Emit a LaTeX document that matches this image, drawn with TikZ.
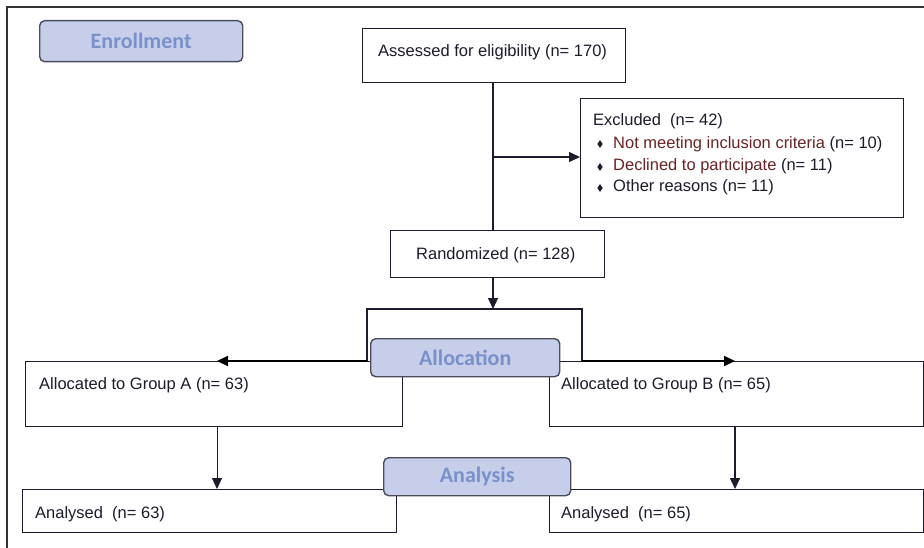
\documentclass[tikz,border=0pt]{standalone}
\usepackage{fontspec}
\setmainfont{Liberation Sans}
\newfontfamily\headfont{Carlito}
\usetikzlibrary{arrows.meta,shapes.geometric}
\definecolor{hdrfill}{HTML}{C6CEE9}
\definecolor{hdrtext}{HTML}{7990CB}
\definecolor{hdredge}{HTML}{4A4C5C}
\definecolor{maroon}{HTML}{6A2326}
\definecolor{ink}{HTML}{1C1C2A}
\tikzset{
  box/.style={draw=ink,line width=1.4pt,fill=white,rectangle,inner sep=0pt,anchor=north west},
  hdr/.style={draw=hdredge,line width=1.4pt,fill=hdrfill,rounded corners=5pt,inner sep=0pt,
    anchor=north west,font=\headfont\bfseries\fontsize{22}{25}\selectfont,text=hdrtext},
  txt/.style={anchor=base west,inner sep=0pt,font=\fontsize{16.5}{20}\selectfont,text=ink},
  conn/.style={draw=ink,line width=1.2pt},
  thick conn/.style={draw=black,line width=2.2pt},
  tip/.style={-{Triangle[length=11pt,width=10pt]}},
  bul/.style={diamond,fill=ink,inner sep=0pt,minimum width=5.5pt,minimum height=8pt},
}
\begin{document}
\begin{tikzpicture}[x=1pt,y=-1pt]
\useasboundingbox (0,0) rectangle (924,548);
% outer frame (cropped at right and bottom)
\draw[line width=1.6pt,draw=black!80] (7,548) -- (7,7) -- (924,7);

% Enrollment header
\node[hdr,minimum width=203pt,minimum height=41pt] (enr) at (39,20) {Enrollment};

% Assessed
\node[box,minimum width=263pt,minimum height=54pt] (ass) at (362,28) {};
\node[txt] (asst) at (378,57) {Assessed for eligibility (n= 170)};

% Excluded
\node[box,minimum width=323pt,minimum height=119pt] (exc) at (580,98) {};
\node[txt] (exct) at (593,126) {Excluded\ \ (n= 42)};
\node[bul] (b1) at (600,144) {};
\node[bul] (b2) at (600,167) {};
\node[bul] (b3) at (600,188) {};
\node[txt] (e1) at (613,149) {\textcolor{maroon}{Not meeting inclusion criteria} (n= 10)};
\node[txt] (e2) at (613,171) {\textcolor{maroon}{Declined to participate} (n= 11)};
\node[txt] (e3) at (613,192) {Other reasons (n= 11)};

% Randomized
\node[box,minimum width=214pt,minimum height=47pt] (ran) at (390,230) {};
\node[txt] (rant) at (416,259) {Randomized (n= 128)};

% connectors enrollment
\coordinate (br) at (493,157);
\draw[conn] (ass.south -| br) -- (ran.north -| br);
\draw[conn,tip] (br) -- (br -| exc.west);

% Group boxes
\node[box,minimum width=377pt,minimum height=65pt] (ga) at (25,361) {};
\node[txt] (gat) at (39,389) {Allocated to Group A (n= 63)};
\node[box,minimum width=374pt,minimum height=65pt] (gb) at (549,361) {};
\node[txt] (gbt) at (561,389) {Allocated to Group B (n= 65)};

% allocation bracket
\coordinate (top) at (493,309);
\coordinate (tl) at (367,309);
\coordinate (tr) at (582,309);
\coordinate (bl) at (367,361);
\coordinate (brr) at (582,361);
\coordinate (aa) at (217,361);
\coordinate (ab) at (735,361);
\draw[conn,tip] (ran.south -| top) -- (top);
\draw[conn] (bl) -- (tl) -- (tr) -- (brr);
\draw[thick conn,tip] (bl) -- (aa);
\draw[thick conn,tip] (brr) -- (ab);

% Allocation header
\node[hdr,minimum width=189pt,minimum height=38pt] (alo) at (370,338) {Allocation};

% Analysed boxes
\node[box,minimum width=374pt,minimum height=43pt] (na) at (22,489) {};
\node[txt] (nat) at (35,518) {Analysed\ \ (n= 63)};
\node[box,minimum width=374pt,minimum height=43pt] (nb) at (549,489) {};
\node[txt] (nbt) at (561,518) {Analysed\ \ (n= 65)};

\draw[conn,line width=0.9pt,tip] (ga.south -| aa) -- (na.north -| aa);
\draw[conn,line width=1.6pt,tip] (gb.south -| ab) -- (nb.north -| ab);

% Analysis header
\node[hdr,minimum width=187pt,minimum height=38pt] (ana) at (383,457) {Analysis};
\end{tikzpicture}
\end{document}
